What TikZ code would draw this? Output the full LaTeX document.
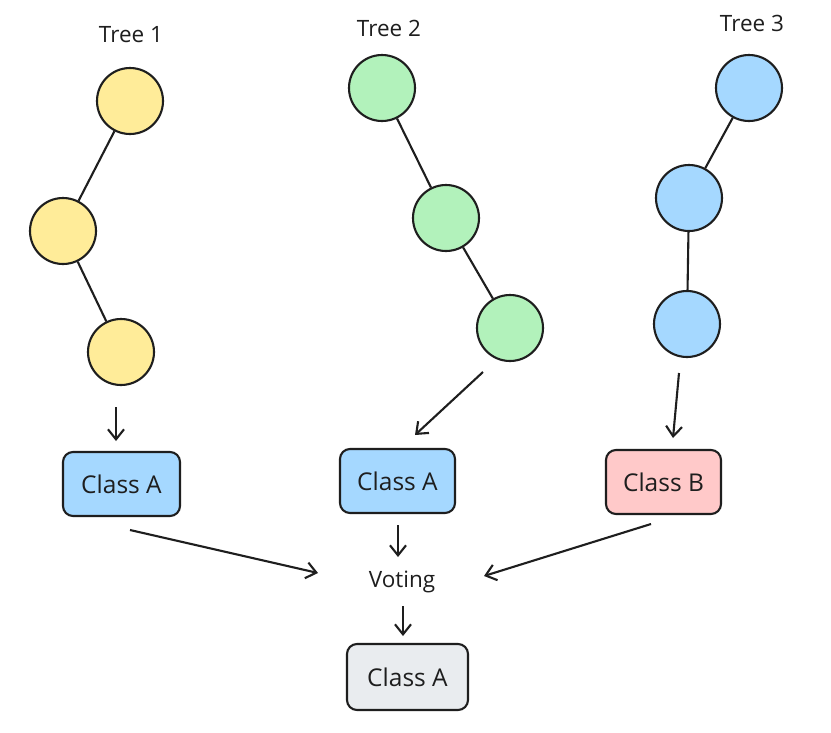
\documentclass[tikz,border=0pt]{standalone}
\usepackage{fontspec}
\setmainfont{Open Sans}
\usetikzlibrary{arrows.meta}
\definecolor{ink}{HTML}{1E1E1E}
\definecolor{yel}{HTML}{FFEC99}
\definecolor{grn}{HTML}{B2F2BB}
\definecolor{blu}{HTML}{A5D8FF}
\definecolor{rd}{HTML}{FFC9C9}
\definecolor{gry}{HTML}{E9ECEF}
\tikzset{
  treenode/.style={circle, draw=ink, line width=2.1pt, minimum size=66pt, inner sep=0pt},
  classbox/.style={rectangle, rounded corners=10pt, draw=ink, line width=2.1pt, minimum height=64pt, inner sep=0pt, font=\fontsize{24.5}{28}\selectfont, text=ink},
  edge/.style={draw=ink, line width=2.1pt},
  arr/.style={draw=ink, line width=2.1pt, -{Straight Barb[length=10pt,width=16pt,line width=2.1pt]}},
  lbl/.style={font=\fontsize{22.5}{26}\selectfont, text=ink, inner sep=0pt}
}
\begin{document}
\begin{tikzpicture}[x=1pt,y=-1pt]
\useasboundingbox[fill=white] (0,0) rectangle (831,732);
% labels
\node[lbl] (t1) at (131,35) {Tree 1};
\node[lbl] (t2) at (389,28) {Tree 2};
\node[lbl] (t3) at (752,23) {Tree 3};
% tree 1
\node[treenode, fill=yel] (c11) at (130,101) {};
\node[treenode, fill=yel] (c12) at (63,231) {};
\node[treenode, fill=yel] (c13) at (121,352) {};
\draw[edge] (c11) -- (c12);
\draw[edge] (c12) -- (c13);
% tree 2
\node[treenode, fill=grn] (c21) at (382,88) {};
\node[treenode, fill=grn] (c22) at (446,218) {};
\node[treenode, fill=grn] (c23) at (510,328) {};
\draw[edge] (c21) -- (c22);
\draw[edge] (c22) -- (c23);
% tree 3
\node[treenode, fill=blu] (c31) at (749,88) {};
\node[treenode, fill=blu] (c32) at (689,198) {};
\node[treenode, fill=blu] (c33) at (687,324) {};
\draw[edge] (c31) -- (c32);
\draw[edge] (c32) -- (c33);
% class boxes
\node[classbox, fill=blu, minimum width=117pt] (b1) at (121.5,484) {Class A};
\node[classbox, fill=blu, minimum width=115pt] (b2) at (397.5,481) {Class A};
\node[classbox, fill=rd, minimum width=115pt] (b3) at (663.5,482) {Class B};
\node[lbl] (vote) at (402,582) {Voting};
\node[classbox, fill=gry, minimum width=121pt, minimum height=66pt] (fin) at (407.5,677) {Class A};
% arrows tree -> class
\coordinate (a1s) at (116,407);
\coordinate (a1e) at (116,441);
\draw[arr] (a1s) -- (a1e);
\coordinate (a2s) at (483,372);
\coordinate (a2e) at (415,435);
\draw[arr] (a2s) -- (a2e);
\coordinate (a3s) at (679,373);
\coordinate (a3e) at (673,438);
\draw[arr] (a3s) -- (a3e);
% arrows class -> voting
\coordinate (v1s) at (130,530);
\coordinate (v1e) at (318,573);
\draw[arr] (v1s) -- (v1e);
\coordinate (v2s) at (398,525);
\coordinate (v2e) at (398,557);
\draw[arr] (v2s) -- (v2e);
\coordinate (v3s) at (651,524);
\coordinate (v3e) at (484,576);
\draw[arr] (v3s) -- (v3e);
\coordinate (v4s) at (403,606);
\coordinate (v4e) at (403,636);
\draw[arr] (v4s) -- (v4e);
\end{tikzpicture}
\end{document}
